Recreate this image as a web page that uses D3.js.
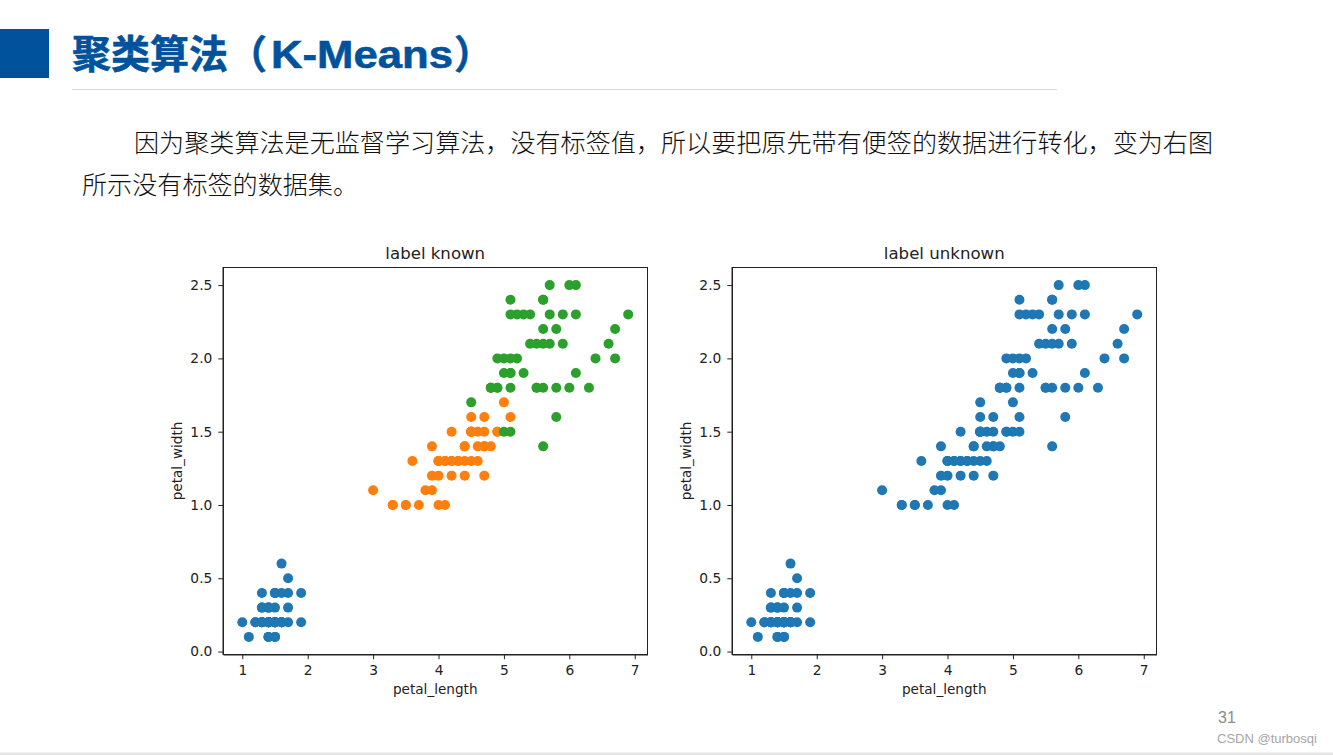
<!DOCTYPE html>
<html>
<head>
<meta charset="utf-8">
<script src="https://cdn.jsdelivr.net/npm/d3@7"></script>
<style>
body { margin: 0; background: #fff; }
svg { display: block; }
.tick text { font-family: "DejaVu Sans"; font-size: 13.8px; fill: #222; }
.tick line, .domain { stroke: #222; }
</style>
</head>
<body>
<svg id="plot" width="1333" height="755"></svg>
<script>
// iris values
var setosaLength = [1.4,1.4,1.3,1.5,1.4,1.7,1.4,1.5,1.4,1.5,1.5,1.6,1.4,1.1,1.2,1.5,1.3,1.4,1.7,1.5,1.7,1.5,1.0,1.7,1.9,1.6,1.6,1.5,1.4,1.6,1.6,1.5,1.5,1.4,1.5,1.2,1.3,1.4,1.3,1.5,1.3,1.3,1.3,1.6,1.9,1.4,1.6,1.4,1.5,1.4];
var setosaWidth = [0.2,0.2,0.2,0.2,0.2,0.4,0.3,0.2,0.2,0.1,0.2,0.2,0.1,0.1,0.2,0.4,0.4,0.3,0.3,0.3,0.2,0.4,0.2,0.5,0.2,0.2,0.4,0.2,0.2,0.2,0.2,0.4,0.1,0.2,0.2,0.2,0.2,0.1,0.2,0.2,0.3,0.3,0.2,0.6,0.4,0.3,0.2,0.2,0.2,0.2];
var versicolorLength = [4.7,4.5,4.9,4.0,4.6,4.5,4.7,3.3,4.6,3.9,3.5,4.2,4.0,4.7,3.6,4.4,4.5,4.1,4.5,3.9,4.8,4.0,4.9,4.7,4.3,4.4,4.8,5.0,4.5,3.5,3.8,3.7,3.9,5.1,4.5,4.5,4.7,4.4,4.1,4.0,4.4,4.6,4.0,3.3,4.2,4.2,4.2,4.3,3.0,4.1];
var versicolorWidth = [1.4,1.5,1.5,1.3,1.5,1.3,1.6,1.0,1.3,1.4,1.0,1.5,1.0,1.4,1.3,1.4,1.5,1.0,1.5,1.1,1.8,1.3,1.5,1.2,1.3,1.4,1.4,1.7,1.5,1.0,1.1,1.0,1.2,1.6,1.5,1.6,1.5,1.3,1.3,1.3,1.2,1.4,1.2,1.0,1.3,1.2,1.3,1.3,1.1,1.3];
var virginicaLength = [6.0,5.1,5.9,5.6,5.8,6.6,4.5,6.3,5.8,6.1,5.1,5.3,5.5,5.0,5.1,5.3,5.5,6.7,6.9,5.0,5.7,4.9,6.7,4.9,5.7,6.0,4.8,4.9,5.6,5.8,6.1,6.4,5.6,5.1,5.6,6.1,5.6,5.5,4.8,5.4,5.6,5.1,5.1,5.9,5.7,5.2,5.0,5.2,5.4,5.1];
var virginicaWidth = [2.5,1.9,2.1,1.8,2.2,2.1,1.7,1.8,1.8,2.5,2.0,1.9,2.1,2.0,2.4,2.3,1.8,2.2,2.3,1.5,2.3,2.0,2.0,1.8,2.1,1.8,1.8,1.8,2.1,1.6,1.9,2.0,2.2,1.5,1.4,2.3,2.4,1.8,1.8,2.1,2.4,2.3,1.9,2.3,2.5,2.3,1.9,2.0,2.3,1.8];
var xTicks = [1,2,3,4,5,6,7];
var yTicks = [0,0.5,1,1.5,2,2.5];
var bodyLines = ["因为聚类算法是无监督学习算法，没有标签值，所以要把原先带有便签的数据进行转化，变为右图", "所示没有标签的数据集。"];

var svg = d3.select('#plot');
var titleBlue = '#00529c';

// slide header
svg.append('rect').attr('x', 0).attr('y', 29).attr('width', 49).attr('height', 49).style('fill', titleBlue);
function titlePart(x, str, font) {
    return svg.append('text').attr('x', x).attr('y', 68)
        .style('font-family', font).style('font-size', '39px').style('font-weight', 'bold')
        .style('fill', titleBlue).style('stroke', titleBlue).style('stroke-width', 0.6)
        .text(str);
}
titlePart(72, '聚类算法（', '"Noto Sans CJK SC"');
titlePart(271, 'K-Means', '"Liberation Sans"').attr('textLength', 182).attr('lengthAdjust', 'spacingAndGlyphs');
titlePart(454, '）', '"Noto Sans CJK SC"');
svg.append('line').attr('x1', 72).attr('x2', 1057).attr('y1', 89.5).attr('y2', 89.5).style('stroke', '#d9d9d9');

// body text
svg.append('text').attr('x', 134).attr('y', 152)
    .style('font-family', '"Noto Sans CJK SC"').style('font-size', '25.1px').style('font-weight', 300).style('fill', '#111')
    .text(bodyLines[0]);
svg.append('text').attr('x', 82).attr('y', 194)
    .style('font-family', '"Noto Sans CJK SC"').style('font-size', '25.1px').style('font-weight', 300).style('fill', '#111')
    .text(bodyLines[1]);

// one panel of the figure
function drawPanel(left, title, groups) {
    var top = 267.5, w = 424.5, h = 387;
    var x = d3.scaleLinear().domain([0.705, 7.195]).range([0, w]);
    var y = d3.scaleLinear().domain([-0.02, 2.62]).range([h, 0]);
    var g = svg.append('g').attr('transform', 'translate(' + left + ',' + top + ')');

    groups.forEach(function(s) {
        g.selectAll(null)
            .data(d3.range(s.xs.length))
            .enter()
            .append('circle')
            .attr('cx', function(i) { return x(s.xs[i]); })
            .attr('cy', function(i) { return y(s.ys[i]); })
            .attr('r', 5)
            .style('fill', s.color);
    });

    g.append('g').attr('transform', 'translate(0,' + h + ')')
        .call(d3.axisBottom(x).tickValues(xTicks).tickFormat(d3.format('d')).tickSize(4.7).tickPadding(6).tickSizeOuter(0));
    g.append('g')
        .call(d3.axisLeft(y).tickValues(yTicks).tickFormat(d3.format('.1f')).tickSize(4.7).tickPadding(6).tickSizeOuter(0));
    g.append('rect').attr('width', w).attr('height', h)
        .style('fill', 'none').style('stroke', '#222');

    g.append('text').attr('x', w / 2).attr('y', -9).attr('text-anchor', 'middle')
        .style('font-family', 'DejaVu Sans').style('font-size', '16.6px').style('fill', '#222').text(title);
    g.append('text').attr('x', w / 2).attr('y', h + 39).attr('text-anchor', 'middle')
        .style('font-family', 'DejaVu Sans').style('font-size', '13.6px').style('fill', '#222').text('petal_length');
    g.append('text').attr('transform', 'translate(-41,' + (h / 2) + ') rotate(-90)').attr('text-anchor', 'middle')
        .style('font-family', 'DejaVu Sans').style('font-size', '13.6px').style('fill', '#222').text('petal_width');
}

var blue = '#1f77b4', orange = '#ff7f0e', green = '#2ca02c';
drawPanel(223, 'label known', [
    {xs: setosaLength, ys: setosaWidth, color: blue},
    {xs: versicolorLength, ys: versicolorWidth, color: orange},
    {xs: virginicaLength, ys: virginicaWidth, color: green}
]);
drawPanel(732, 'label unknown', [
    {xs: setosaLength.concat(versicolorLength, virginicaLength), ys: setosaWidth.concat(versicolorWidth, virginicaWidth), color: blue}
]);

// footer
svg.append('text').attr('x', 1218).attr('y', 723)
    .style('font-family', 'Liberation Sans').style('font-size', '16px').style('fill', '#8c8c8c').text('31');
svg.append('text').attr('x', 1217).attr('y', 743)
    .style('font-family', 'Liberation Sans').style('font-size', '13px').style('fill', '#a6a6a6').text('CSDN @turbosqi');
svg.append('rect').attr('x', 0).attr('y', 752.5).attr('width', 1333).attr('height', 2.5).style('fill', '#e4e4e4');
</script>
</body>
</html>
